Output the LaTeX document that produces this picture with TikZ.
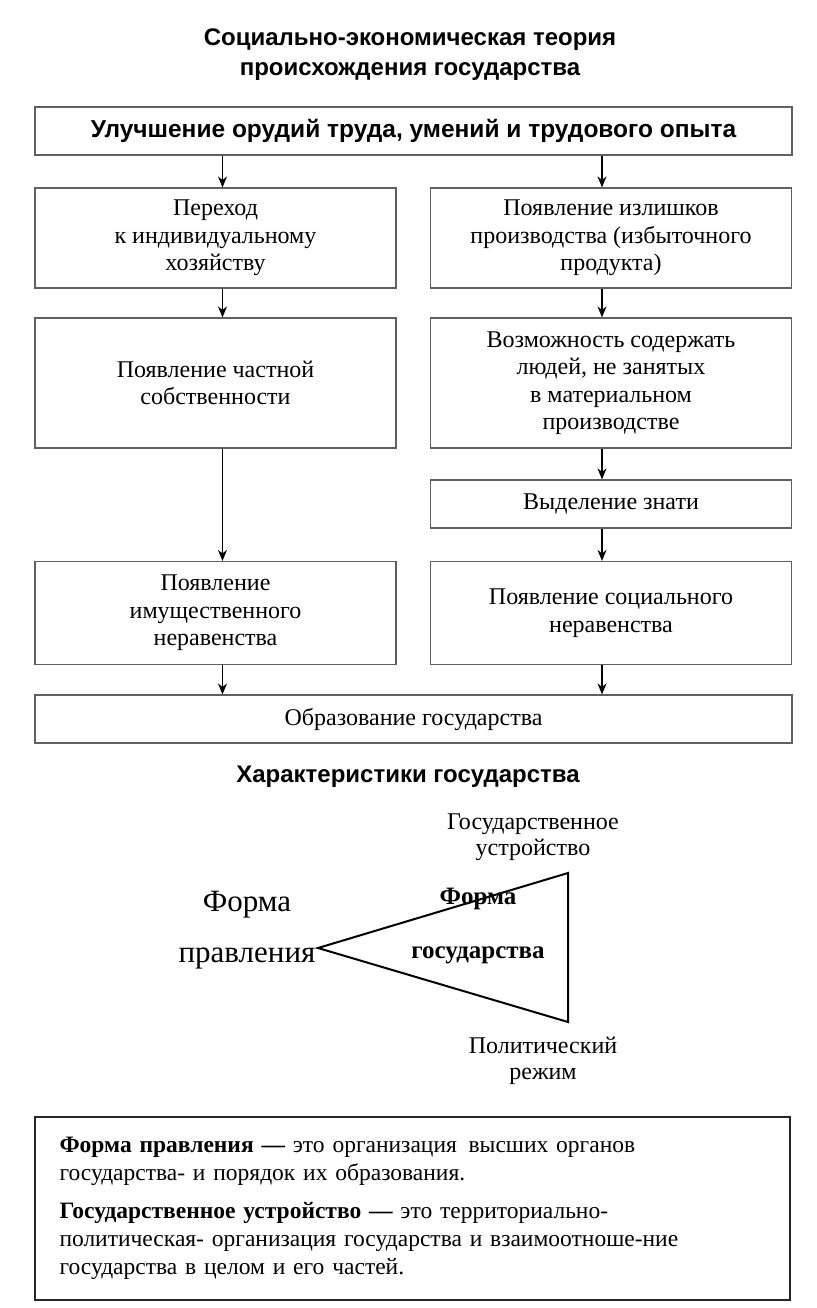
\documentclass[tikz,border=0pt]{standalone}
\usepackage{fontspec}
\setmainfont{Liberation Serif}
\setsansfont{Liberation Sans}
\usetikzlibrary{arrows.meta,positioning}

\begin{document}
\begin{tikzpicture}[x=1pt,y=-1pt,
	box/.style={draw=gray!75!black, line width=1.2pt, align=center,
		inner sep=0pt, font=\fontsize{24}{27.5}\selectfont},
	colbox/.style={box, minimum width=361pt, minimum height=#1},
	widebox/.style={box, minimum width=757pt, minimum height=48pt},
	head/.style={align=center, font=\sffamily\bfseries\fontsize{24}{30}\selectfont},
	lbl/.style={align=center, inner sep=0pt, font=\fontsize{24}{26}\selectfont},
	arr/.style={-{Stealth[length=11pt,width=9pt]}, line width=1.4pt}]
\useasboundingbox (0,0) rectangle (816,1308);

\node[head] (title) at (410,55) {Социально-экономическая теория\\происхождения государства};

\node[widebox, font=\sffamily\bfseries\fontsize{24.5}{26}\selectfont] (top) at (413.5,131)
	{Улучшение орудий труда, умений и трудового опыта};

% left column
\node[colbox=100pt] (l1) at (215.5,238) {Переход\\к индивидуальному\\хозяйству};
\node[colbox=130pt] (l2) at (215.5,383) {Появление частной\\собственности};
\node[colbox=103pt] (l3) at (215.5,613) {Появление\\имущественного\\неравенства};

% right column
\node[colbox=100pt] (r1) at (611,238) {Появление излишков\\производства (избыточного\\продукта)};
\node[colbox=130pt] (r2) at (611,383) {Возможность содержать\\людей, не занятых\\в материальном\\производстве};
\node[colbox=48pt] (r3) at (611,504) {Выделение знати};
\node[colbox=103pt] (r4) at (611,613) {Появление социального\\неравенства};

\node[widebox] (state) at (413.5,719) {Образование государства};

\draw[arr] ([xshift=7pt]top.south -| l1.south) -- ([xshift=7pt]l1.north);
\draw[arr] ([xshift=-9pt]top.south -| r1.south) -- ([xshift=-9pt]r1.north);
\draw[arr] ([xshift=7pt]l1.south) -- ([xshift=7pt]l2.north);
\draw[arr] ([xshift=7pt]l2.south) -- ([xshift=7pt]l3.north);
\draw[arr] ([xshift=7pt]l3.south) -- ([xshift=7pt]state.north -| l3.north);
\draw[arr] ([xshift=-9pt]r1.south) -- ([xshift=-9pt]r2.north);
\draw[arr] ([xshift=-9pt]r2.south) -- ([xshift=-9pt]r3.north);
\draw[arr] ([xshift=-9pt]r3.south) -- ([xshift=-9pt]r4.north);
\draw[arr] ([xshift=-9pt]r4.south) -- ([xshift=-9pt]state.north -| r4.north);

\node[head] (chars) at (408,777) {Характеристики государства};

% triangle
\coordinate (tip) at (318,948);
\coordinate (up) at (568,873);
\coordinate (down) at (568,1022);
\draw[line width=2pt, line join=miter] (tip) -- (up) -- (down) -- cycle;

\node[lbl] (device) at (533,837) {Государственное\\устройство};
\node[lbl, font=\fontsize{31}{51}\selectfont] (rule) at (247,930) {Форма\\правления};
\node[lbl, font=\bfseries\fontsize{25}{54}\selectfont] (form) at (478,926) {Форма\\государства};
\node[lbl] (regime) at (543,1061) {Политический\\режим};

% definitions
\node[draw=black!85, line width=2pt, minimum width=755pt, minimum height=183pt,
	text width=706pt, inner xsep=24pt, align=left,
	font=\fontsize{23.5}{28}\selectfont] (defs) at (412.5,1208.5)
	{{\bfseries Форма правления —} это организация\, высших органов\\
	государства- и порядок их образования.\\[10pt]
	{\bfseries Государственное устройство —} это территориально-\\
	политическая- организация государства и взаимоотноше-ние\\
	государства в целом и его частей.};

\end{tikzpicture}
\end{document}
